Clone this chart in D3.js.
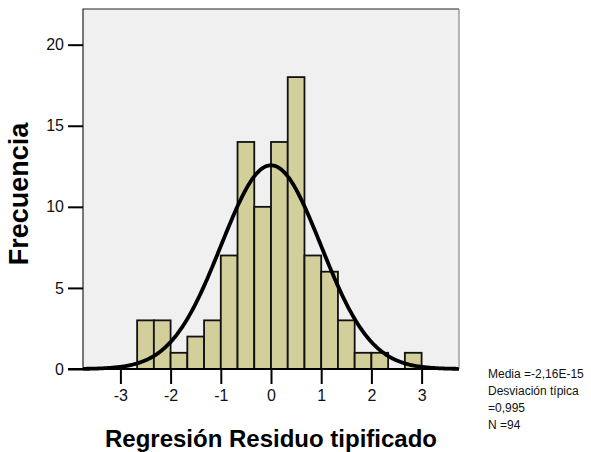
<!DOCTYPE html>
<html>
<head>
<meta charset="utf-8">
<script src="https://cdn.jsdelivr.net/npm/d3@7"></script>
<style>
  body { margin: 0; background: #fff; }
  svg { display: block; font-family: "Liberation Sans", Arial, sans-serif; }
</style>
</head>
<body>
<svg width="591" height="452"></svg>
<script>
// histogram bins (left edges, width 1/3) and counts
const binEdges = [-2.6667, -2.3333, -2, -1.6667, -1.3333, -1, -0.6667, -0.3333, 0,
                  0.3333, 0.6667, 1, 1.3333, 1.6667, 2, 2.3333, 2.6667];
const binWidth = 1 / 3;
const counts = [3, 3, 1, 2, 3, 7, 14, 10, 14, 18, 7, 6, 3, 1, 1, 0, 1];

const xTicks = [-3, -2, -1, 0, 1, 2, 3];
const yTicks = [0, 5, 10, 15, 20];

const mean = -2.16e-15, sd = 0.995, n = 94;
const legendLines = ["Media =-2,16E-15", "Desviación típica", "=0,995", "N =94"];

const svg = d3.select("svg");

const x = d3.scaleLinear().domain([-3.745, 3.745]).range([83, 459]);
const y = d3.scaleLinear().domain([0, 22.2]).range([369, 9]);

// plot background
svg.append("rect")
    .attr("x", x.range()[0]).attr("y", y.range()[1])
    .attr("width", x.range()[1] - x.range()[0])
    .attr("height", y.range()[0] - y.range()[1])
    .attr("fill", "#f0f0f0");

// bars
svg.selectAll(".bar")
    .data(counts.map((c, i) => ({ x0: binEdges[i], c })))
    .enter()
    .filter(d => d.c > 0)
    .append("rect")
    .attr("x", d => x(d.x0))
    .attr("y", d => y(d.c))
    .attr("width", d => x(d.x0 + binWidth) - x(d.x0))
    .attr("height", d => y(0) - y(d.c))
    .attr("fill", "#d3cf9b")
    .attr("stroke", "#111")
    .attr("stroke-width", 1.8);

// normal curve
const pdf = v => n * binWidth * Math.exp(-0.5 * ((v - mean) / sd) ** 2) / (sd * Math.sqrt(2 * Math.PI));
const pts = d3.range(0, 301).map(i => {
    const v = x.domain()[0] + i * (x.domain()[1] - x.domain()[0]) / 300;
    return [v, pdf(v)];
});
svg.append("path")
    .datum(pts)
    .attr("d", d3.line().x(d => x(d[0])).y(d => y(d[1])))
    .attr("fill", "none")
    .attr("stroke", "#000")
    .attr("stroke-width", 3.8);

// frame
svg.append("path")
    .attr("d", `M${x.range()[0]},${y.range()[0]}V${y.range()[1]}H${x.range()[1]}`)
    .attr("fill", "none").attr("stroke", "#222").attr("stroke-width", 1.2);
svg.append("line")
    .attr("x1", x.range()[1]).attr("x2", x.range()[1])
    .attr("y1", y.range()[1]).attr("y2", y.range()[0])
    .attr("stroke", "#888").attr("stroke-width", 1.2);

// axes
const yAxis = svg.append("g")
    .attr("transform", `translate(${x.range()[0]},0)`)
    .call(d3.axisLeft(y).tickValues(yTicks).tickSize(15).tickPadding(4));
const xAxis = svg.append("g")
    .attr("transform", `translate(0,${y.range()[0]})`)
    .call(d3.axisBottom(x).tickValues(xTicks).tickSize(15).tickPadding(6)
        .tickFormat(d => String(d)));

[yAxis, xAxis].forEach(g => {
    g.select(".domain").attr("stroke", "#000").attr("stroke-width", 2);
    g.selectAll(".tick line").attr("stroke", "#000").attr("stroke-width", 2);
    g.selectAll(".tick text")
        .attr("fill", "#111")
        .style("font-size", "16px")
        .style("font-family", "'Liberation Sans', Arial, sans-serif");
});
yAxis.select(".domain").remove();
xAxis.select(".domain").attr("d", `M${x.range()[0] - 15},0H${x.range()[1]}`);

// axis titles
svg.append("text")
    .attr("transform", "translate(28,194) rotate(-90)")
    .attr("text-anchor", "middle")
    .style("font-size", "27px").style("font-weight", "bold")
    .text("Frecuencia");
svg.append("text")
    .attr("x", 271).attr("y", 447)
    .attr("text-anchor", "middle")
    .style("font-size", "24px").style("font-weight", "bold")
    .text("Regresión Residuo tipificado");

// stats legend
svg.append("g").selectAll("text")
    .data(legendLines)
    .enter()
    .append("text")
    .attr("x", 488)
    .attr("y", (d, i) => 378 + i * 17)
    .style("font-size", "12px")
    .attr("fill", "#111")
    .text(d => d);
</script>
</body>
</html>
